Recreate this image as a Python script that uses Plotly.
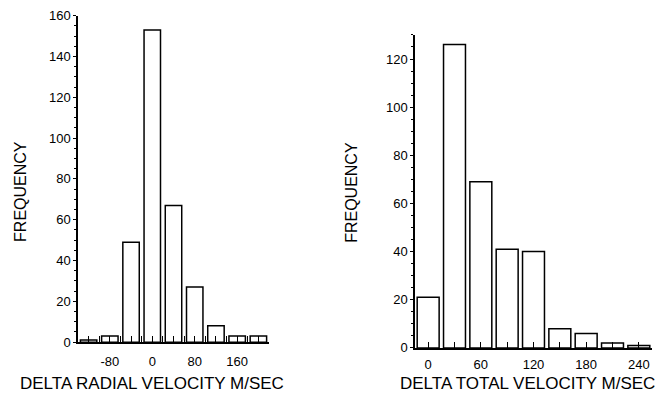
import plotly.graph_objects as go

# Left histogram: delta radial velocity
radial_bins = [-120, -80, -40, 0, 40, 80, 120, 160, 200]
radial_freq = [1, 3, 49, 153, 67, 27, 8, 3, 3]
radial_ticks = [-80, 0, 80, 160]

# Right histogram: delta total velocity
total_bins = [0, 30, 60, 90, 120, 150, 180, 210, 240]
total_freq = [21, 126, 69, 41, 40, 8, 6, 2, 1]
total_ticks = [0, 60, 120, 180, 240]

W, H = 663, 406
FONT = "Liberation Sans, Arial, Helvetica, sans-serif"

fig = go.Figure()
fig.add_trace(go.Bar(x=radial_bins, y=radial_freq, xaxis="x", yaxis="y",
                     marker=dict(color="white", line=dict(color="black", width=1.5)),
                     width=31))
fig.add_trace(go.Bar(x=total_bins, y=total_freq, xaxis="x2", yaxis="y2",
                     marker=dict(color="white", line=dict(color="black", width=1.5)),
                     width=25))

def px_x(p):
    return p / W

def px_y(p):
    return (H - p) / H

common_x = dict(showline=True, linecolor="black", linewidth=1.5, showgrid=False,
                zeroline=False, ticks="inside", ticklen=6, tickcolor="black",
                tickwidth=1, tickfont=dict(size=13, color="black", family=FONT),
                tickmode="array")
common_y = dict(showline=True, linecolor="black", linewidth=1.5, showgrid=False,
                zeroline=False, ticks="outside", ticklen=3, tickcolor="black",
                tickwidth=1, tickfont=dict(size=13, color="black", family=FONT))

fig.update_layout(
    width=W, height=H,
    margin=dict(l=0, r=0, t=0, b=0),
    paper_bgcolor="white", plot_bgcolor="white",
    showlegend=False,
    font=dict(family=FONT, color="black"),
    xaxis=dict(domain=[px_x(78), px_x(269)], range=[-140, 220], anchor="y",
               tickvals=radial_ticks, ticktext=[str(v) for v in radial_ticks],
               ticklabelstandoff=7,
               minor=dict(tickmode="linear", tick0=0, dtick=20, ticks="inside",
                          ticklen=6, tickcolor="black"),
               **common_x),
    yaxis=dict(domain=[px_y(348), px_y(9)], range=[0, 160], anchor="x",
               tickmode="linear", tick0=0, dtick=20,
               minor=dict(tickmode="linear", dtick=5, ticks="outside",
                          ticklen=2, tickcolor="black"),
               **common_y),
    xaxis2=dict(domain=[px_x(415), px_x(652)], range=[-15, 255], anchor="y2",
                tickvals=total_ticks, ticktext=[str(v) for v in total_ticks],
                ticklabelstandoff=4,
                minor=dict(tickmode="linear", tick0=0, dtick=30, ticks="inside",
                           ticklen=6, tickcolor="black"),
                **common_x),
    yaxis2=dict(domain=[px_y(354), px_y(29)], range=[0, 130], anchor="x2",
                tickmode="linear", tick0=0, dtick=20,
                minor=dict(tickmode="linear", dtick=5, ticks="outside",
                           ticklen=2, tickcolor="black"),
                **common_y),
)

def ann(x, y, text, size, angle=0):
    fig.add_annotation(x=px_x(x), y=px_y(y), xref="paper", yref="paper",
                       text=text, textangle=angle, showarrow=False,
                       xanchor="center", yanchor="middle",
                       font=dict(size=size, color="black", family=FONT))

ann(21, 192, "FREQUENCY", 16, -90)
ann(352, 193, "FREQUENCY", 16, -90)
ann(152, 391, "DELTA RADIAL VELOCITY M/SEC", 17)
ann(527, 391, "DELTA TOTAL VELOCITY M/SEC", 17)

fig.write_html("out.html")
